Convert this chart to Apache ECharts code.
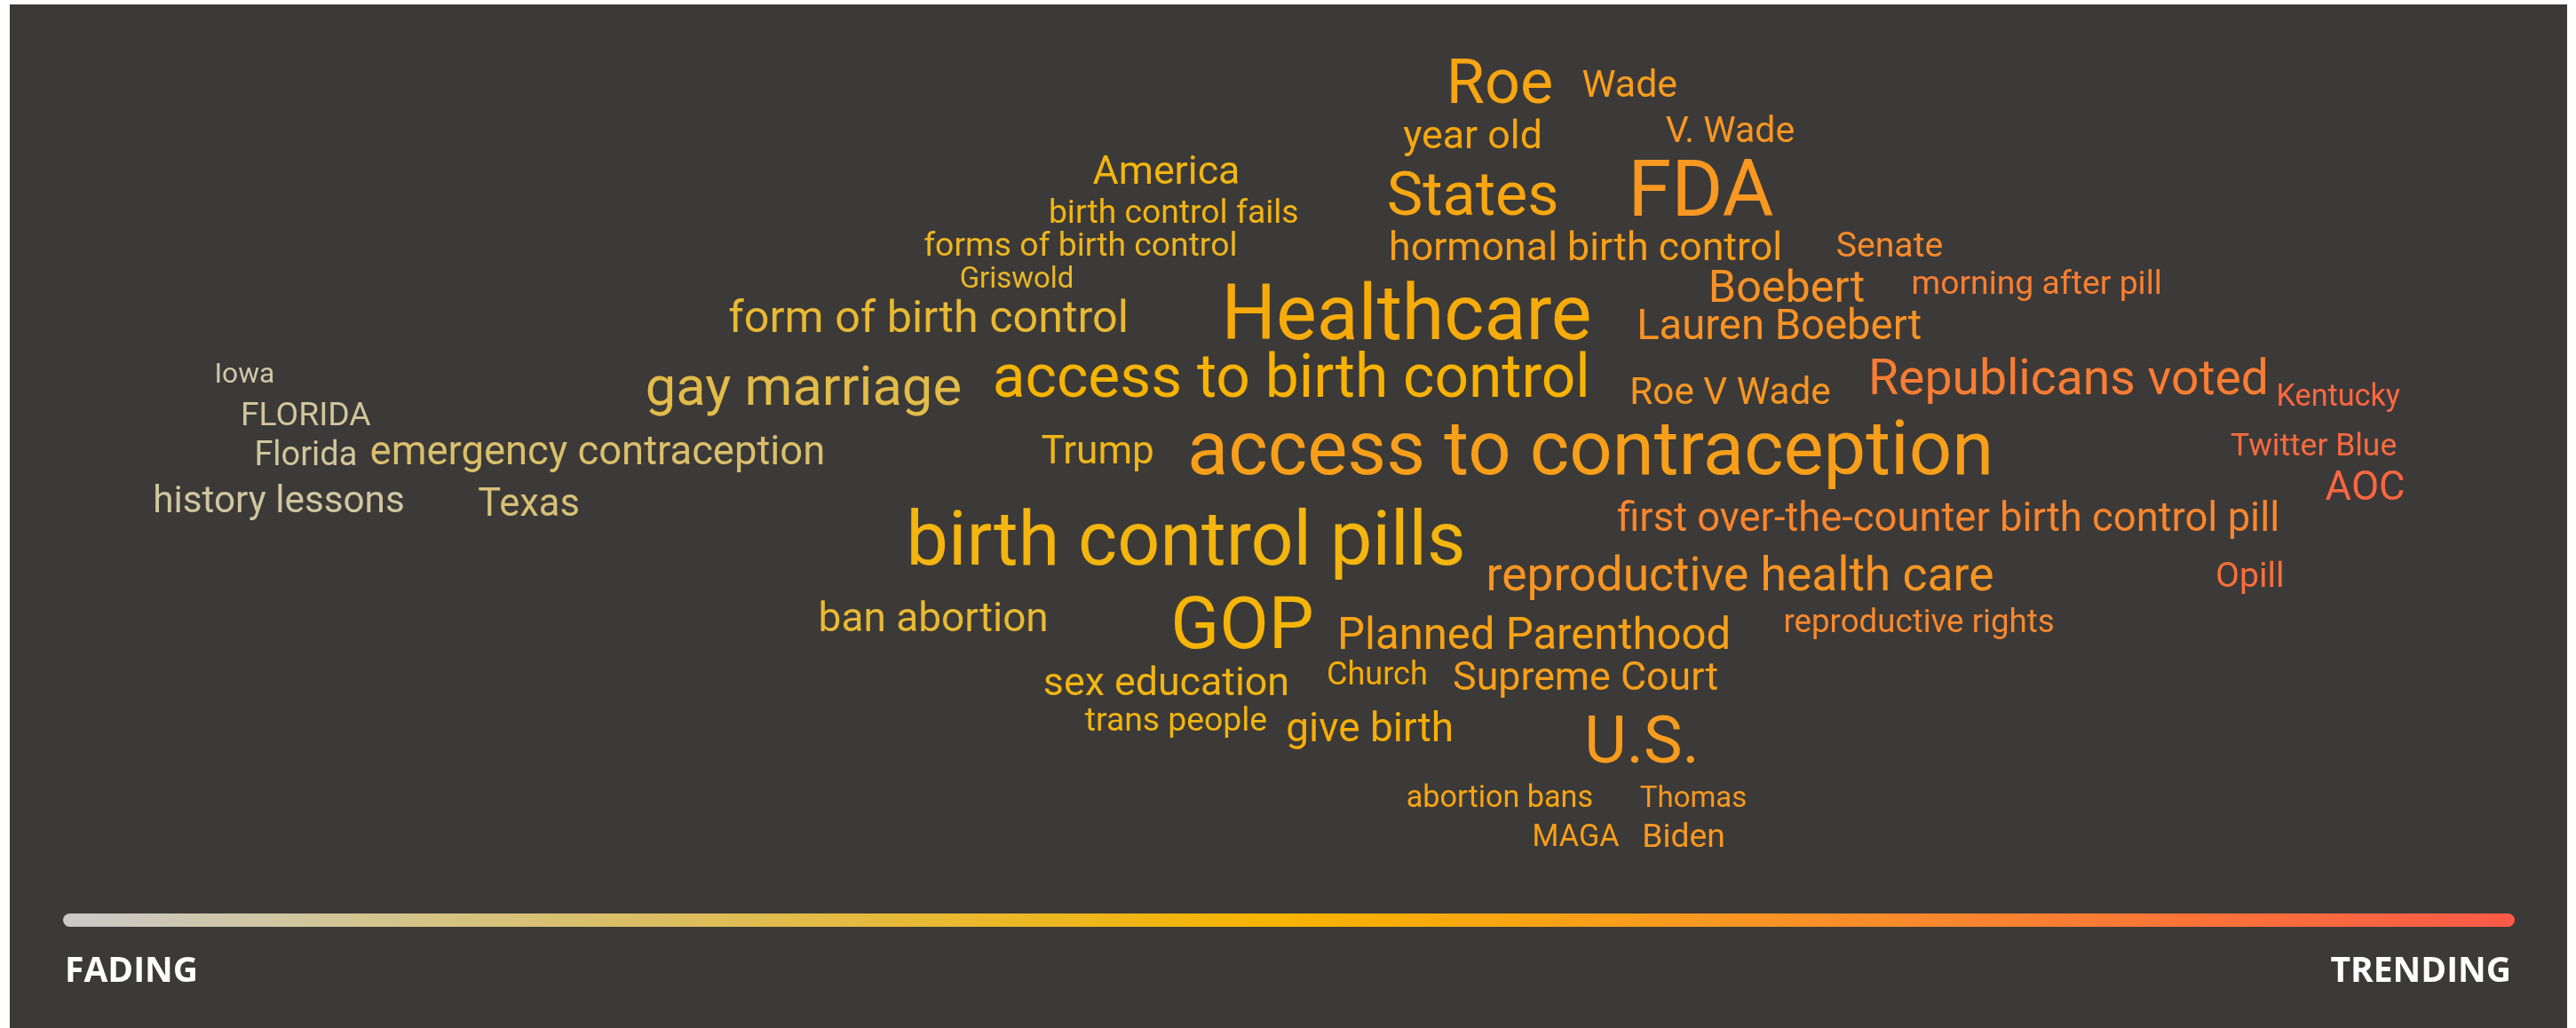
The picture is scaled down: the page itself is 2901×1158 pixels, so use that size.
<!DOCTYPE html>
<html>
<head>
<meta charset="UTF-8">
<title>Trending terms</title>
<script src="https://cdn.jsdelivr.net/npm/echarts@6/dist/echarts.min.js"></script>
<style>
  html, body { margin: 0; padding: 0; background: #ffffff; }
  #cloud { width: 2901px; height: 1158px; }
</style>
</head>
<body>
<div id="cloud"></div>
<script>
// terms, their trend score (0 = fading, 100 = trending), vertical slot (0-100) and volume
var words = ['Roe', 'Wade', 'year old', 'V. Wade', 'America', 'FDA', 'States',
  'birth control fails', 'forms of birth control', 'hormonal birth control', 'Senate',
  'Griswold', 'Boebert', 'morning after pill', 'Healthcare', 'form of birth control',
  'Lauren Boebert', 'Iowa', 'access to birth control', 'gay marriage', 'Republicans voted',
  'Roe V Wade', 'Kentucky', 'FLORIDA', 'access to contraception', 'Twitter Blue', 'Trump',
  'Florida', 'emergency contraception', 'AOC', 'history lessons', 'Texas',
  'first over-the-counter birth control pill', 'birth control pills', 'reproductive health care',
  'Opill', 'ban abortion', 'GOP', 'Planned Parenthood', 'reproductive rights', 'sex education',
  'Church', 'Supreme Court', 'trans people', 'give birth', 'U.S.', 'abortion bans', 'Thomas',
  'MAGA', 'Biden'];
var trend = [58.6, 63.9, 57.5, 68.0, 45.0, 66.8, 57.5,
  45.3, 41.5, 62.1, 74.5,
  38.9, 70.3, 80.5, 54.8, 35.3,
  70.0, 7.4, 50.1, 30.2, 81.8,
  68.0, 92.8, 9.9, 62.3, 91.8, 42.2,
  9.9, 21.8, 93.9, 8.8, 19.0,
  76.9, 45.8, 68.4,
  89.2, 35.5, 48.1, 60.0, 75.7, 45.0,
  53.6, 62.1, 45.4, 53.3, 64.4, 58.6, 66.5,
  61.7, 66.1];
var slot = [8.0, 8.1, 13.1, 12.6, 16.6, 18.4, 18.9,
  20.6, 23.8, 24.0, 23.8,
  27.0, 27.8, 27.5, 30.4, 30.8,
  31.6, 36.3, 36.6, 37.5, 36.7,
  38.0, 38.5, 40.3, 43.6, 43.3, 43.8,
  44.2, 43.8, 47.3, 48.6, 48.9,
  50.3, 52.4, 55.8,
  55.9, 60.1, 60.7, 61.7, 60.4, 66.3,
  65.5, 65.8, 70.0, 70.8, 72.0, 77.5, 77.5,
  81.3, 81.3];
var volume = [68, 24, 27, 21, 27, 98, 65,
  15, 15, 27, 18,
  8, 36, 15, 94, 36,
  31, 6, 64, 54, 44,
  23, 10, 15, 92, 12, 26,
  16, 28, 28, 23, 25,
  28, 91, 41,
  18, 29, 85, 34, 14, 27,
  13, 27, 15, 29, 73, 10, 8,
  10, 15];

var trendColors = ['#c9c9c9', '#d3c58f', '#dcbd5e', '#eab82a', '#f7b300',
  '#f89f1a', '#f98a2c', '#fb7238', '#ff5a48'];

var fontFor = function(v) {
  return 28 + v * 0.62;
};

var points = words.map(function(w, i) {
  var fs = fontFor(volume[i]);
  return {
    name: w,
    value: [trend[i], slot[i]],
    label: { fontSize: fs, offset: [0, Math.round(fs * 0.09)] }
  };
});

var gradStops = trendColors.map(function(c, i) {
  return { offset: i / (trendColors.length - 1), color: c };
});

var chart = echarts.init(document.getElementById('cloud'));
chart.setOption({
  animation: false,
  backgroundColor: '#ffffff',
  grid: { left: 71, right: 69, top: 0, bottom: 0 },
  xAxis: { type: 'value', min: 0, max: 100, show: false },
  yAxis: { type: 'value', min: 0, max: 100, inverse: true, show: false },
  visualMap: {
    show: false,
    type: 'continuous',
    dimension: 0,
    min: 0,
    max: 100,
    inRange: { color: trendColors }
  },
  graphic: [
    {
      type: 'rect', z: -10, silent: true,
      shape: { x: 11, y: 5, width: 2880, height: 1153 },
      style: { fill: '#3c3a38' }
    },
    {
      type: 'rect', z: -5, silent: true,
      shape: { x: 71, y: 1029, width: 2761, height: 15, r: 7.5 },
      style: { fill: new echarts.graphic.LinearGradient(0, 0, 1, 0, gradStops) }
    },
    {
      type: 'text', z: -5, left: 73, top: 1075,
      style: { text: 'FADING', fill: '#ffffff', font: 'bold 39px "Open Sans"' }
    },
    {
      type: 'text', z: -5, right: 2901 - 2828, top: 1075,
      style: { text: 'TRENDING', fill: '#ffffff', font: 'bold 39px "Open Sans"' }
    }
  ],
  series: [{
    type: 'scatter',
    symbolSize: 0,
    itemStyle: { opacity: 1 },
    data: points,
    label: {
      show: true,
      position: 'inside',
      formatter: '{b}',
      color: 'inherit',
      opacity: 1,
      fontFamily: 'Roboto',
      fontWeight: 'normal'
    },
    emphasis: { disabled: true }
  }]
});
</script>
</body>
</html>
